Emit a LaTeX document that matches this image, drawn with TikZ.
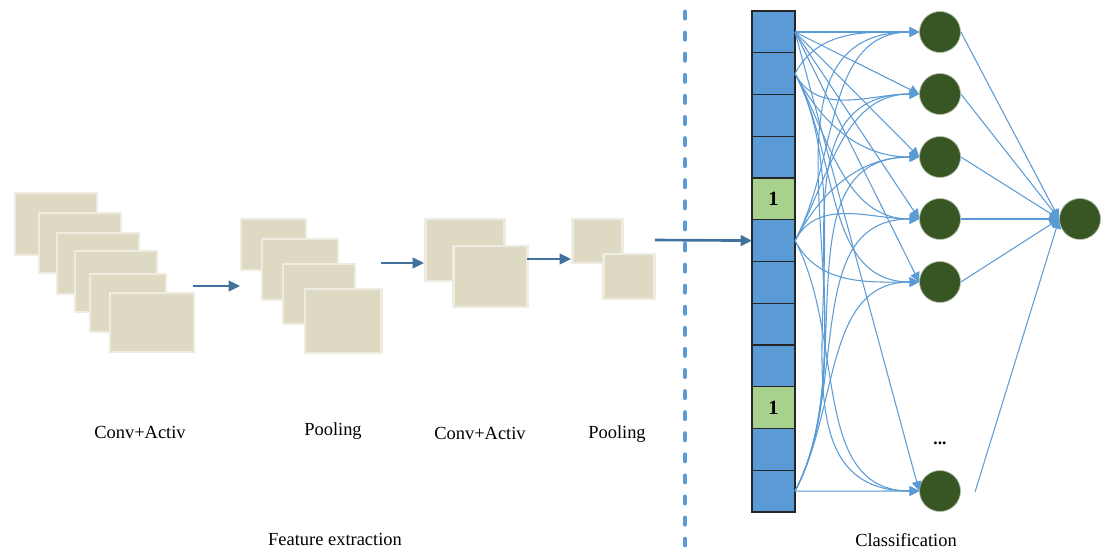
\documentclass[tikz,border=0pt]{standalone}
\usepackage{fontspec}
\setmainfont{Liberation Serif}
\usetikzlibrary{positioning, arrows.meta}
\definecolor{cellblue}{HTML}{5B9BD5}
\definecolor{cellgreen}{HTML}{A9D18E}
\definecolor{neurongreen}{HTML}{375623}
\definecolor{feedblue}{HTML}{41719C}
\definecolor{fmfill}{HTML}{DDD9C3}
\definecolor{fmedge}{HTML}{EEECE1}
\tikzset{
	fmap/.style={fill=fmfill, draw=fmedge, line width=1.7pt}, % one feature map
	feed/.style={->, >={Triangle[length=6.5pt,width=6pt]}, draw=feedblue, line width=1.5pt}, % arrows between stages
	cell/.style={draw=black!85, line width=0.6pt, fill=cellblue, minimum width=0.86cm, minimum height=0.835cm, inner sep=0pt, outer sep=0pt}, % one entry of the flat vector
	neuron/.style={circle, fill=neurongreen, draw=neurongreen!40!white, line width=0.4pt, minimum size=0.82cm, inner sep=0pt}, % fully connected unit
	link/.style={->, >={Triangle[length=5.5pt,width=5.5pt]}, draw=cellblue, line width=0.6pt}, % dense connections
	lbl/.style={font=\fontsize{10.5}{12}\selectfont}, % captions
}
\begin{document}
\begin{tikzpicture}[x=0.02cm, y=-0.02cm]
	\useasboundingbox (0,0) rectangle (1111,551);
	% feature extraction
	\draw[fmap] (15,193) rectangle (97,255);
	\draw[fmap] (39,213) rectangle (121,273);
	\draw[fmap] (57,233) rectangle (139,294);
	\draw[fmap] (75,251) rectangle (157,312);
	\draw[fmap] (90,274) rectangle (166,332);
	\draw[fmap] (110,293) rectangle (194,352);
	\draw[fmap] (241,219) rectangle (306,270);
	\draw[fmap] (262,239) rectangle (338,300);
	\draw[fmap] (283,264) rectangle (355,324);
	\draw[fmap] (305,289) rectangle (381,353);
	\draw[fmap] (425,219) rectangle (504,281);
	\draw[fmap] (453,246) rectangle (527,307);
	\draw[fmap] (572,219) rectangle (622,263);
	\draw[fmap] (603,254) rectangle (654,299);
	\coordinate (a1s) at (193,286);
	\coordinate (a1e) at (240,286);
	\coordinate (a2s) at (381,263);
	\coordinate (a2e) at (424,263);
	\coordinate (a3s) at (527,259);
	\coordinate (a3e) at (571,259);
	\draw[feed] (a1s) -- (a1e);
	\draw[feed] (a2s) -- (a2e);
	\draw[feed] (a3s) -- (a3e);
	\node[lbl] (conv1) at (140,432) {Conv+Activ};
	\node[lbl] (pool1) at (333,431) {Pooling};
	\node[lbl] (conv2) at (480,433) {Conv+Activ};
	\node[lbl] (pool2) at (617,434) {Pooling};
	\node[lbl] (fe) at (335,539) {Feature extraction};
	% separator
	\coordinate (septop) at (685,12);
	\coordinate (sepbot) at (685,545);
	\draw[cellblue, line width=2.8pt, line cap=round, dash pattern=on 3.5pt off 8.5pt] (septop) -- (sepbot);
	% flattened vector
	\foreach \i in {1,...,12}
		\node[cell] (c\i) at (773.5,{11+41.75*(\i-0.5)}) {};
	\node[cell, fill=cellgreen, font=\bfseries\fontsize{11.5}{12}\selectfont] at (c5) {1};
	\node[cell, fill=cellgreen, font=\bfseries\fontsize{11.5}{12}\selectfont] at (c10) {1};
	\coordinate (in) at (655,240);
	\draw[feed] (in) -- (c6.west);
	% classifier
	\foreach \h/\hy in {1/32,2/94,3/157,4/219,5/282,6/491}
		\node[neuron] (h\h) at (940,\hy) {};
	\node[neuron] (out) at (1080,219) {};
	\node[font=\bfseries] (dots) at (940,443) {...};
	\foreach \h in {1,...,6}
		\draw[link] (c1.east |- 0,32) -- (h\h.west);
	\foreach \s/\sy in {2/74,6/240,12/491}
		\foreach \h/\hy in {1/32,2/94,3/157,4/219,5/282,6/491} {
			\pgfmathsetmacro\ang{\hy<\sy ? 62 : (\hy>\sy ? -62 : 0)}
			\draw[link] (c\s.east) to[out=\ang, in=180] (h\h.west);
		}
	\foreach \h in {1,...,5}
		\draw[link] (h\h.east) -- (out.west);
	\coordinate (h6r) at (975,492);
	\draw[link] (h6r) -- (out.west);
	\node[lbl] (cls) at (906,540) {Classification};
\end{tikzpicture}
\end{document}
